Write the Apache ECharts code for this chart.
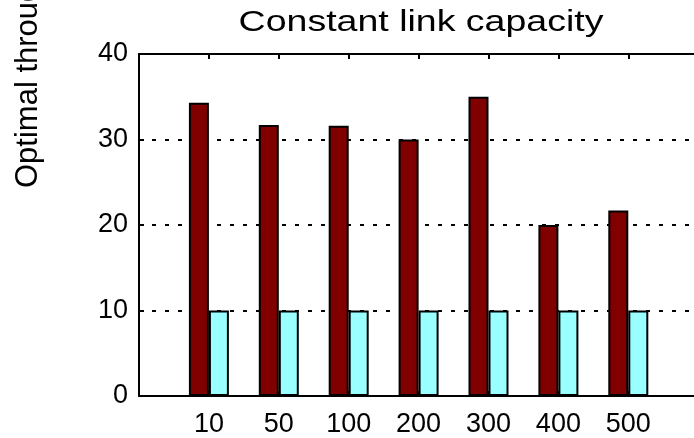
<!DOCTYPE html>
<html>
<head>
<meta charset="utf-8">
<script src="https://cdn.jsdelivr.net/npm/echarts@6/dist/echarts.min.js"></script>
<style>
  html, body { margin: 0; padding: 0; background: #fff; overflow: hidden; }
  #chart { width: 694px; height: 438px; }
</style>
</head>
<body>
<div id="chart"></div>
<script>
// Link counts along the x axis
const categories = ['10', '50', '100', '200', '300', '400', '500'];
// Optimal throughput per configuration
const optimalValues = [34.3, 31.7, 31.6, 30.0, 35.0, 20.0, 21.7];
// Constant link capacity reference
const capacityValues = [10, 10, 10, 10, 10, 10, 10];
// Y-axis ticks
const yTicks = [0, 10, 20, 30, 40];

const titleText = 'Constant link capacity';
const yAxisLabel = 'Optimal throughput';

const FONT = '"Liberation Sans", Arial, Helvetica, sans-serif';

// Bars sit at positions 1..n on a value axis; the visible window stops
// a little short of n+1, where the plot box is cut off on the right.
const positions = categories.map((c, i) => i + 1);
const toPoints = vals => vals.map((v, i) => [positions[i], v]);
const xMax = 7.94;

const chart = echarts.init(document.getElementById('chart'), null, { renderer: 'canvas' });

const xCommon = {
  type: 'value',
  min: 0,
  max: xMax,
  splitLine: { show: false },
  axisLine: { show: true, onZero: false, lineStyle: { color: '#000', width: 2 } },
  axisTick: {
    show: true, inside: true, length: 5,
    customValues: positions,
    lineStyle: { color: '#000', width: 2 }
  }
};

chart.setOption({
  animation: false,
  backgroundColor: '#ffffff',
  grid: { left: 139, right: 0, top: 54, bottom: 41, containLabel: false },
  xAxis: [
    Object.assign({}, xCommon, {
      position: 'bottom',
      axisLabel: {
        show: true,
        margin: 15,
        fontFamily: FONT,
        fontSize: 27,
        color: '#000',
        customValues: positions,
        formatter: v => categories[Math.round(v) - 1] || ''
      }
    }),
    Object.assign({}, xCommon, {
      position: 'top',
      axisLabel: { show: false }
    })
  ],
  yAxis: {
    type: 'value',
    min: yTicks[0],
    max: yTicks[yTicks.length - 1],
    interval: 10,
    axisLine: { show: true, lineStyle: { color: '#000', width: 2 } },
    axisTick: { show: true, inside: true, length: 5, lineStyle: { color: '#000', width: 2 } },
    axisLabel: {
      margin: 11,
      fontFamily: FONT,
      fontSize: 27,
      color: '#000'
    },
    splitLine: {
      show: true,
      lineStyle: { color: '#000', width: 2, type: [4, 9] }
    }
  },
  series: [
    {
      type: 'bar',
      xAxisIndex: 0,
      data: toPoints(optimalValues),
      barWidth: 20,
      barGap: '0%',
      itemStyle: { color: '#800000', borderColor: '#000', borderWidth: 2 }
    },
    {
      type: 'bar',
      xAxisIndex: 0,
      data: toPoints(capacityValues),
      barWidth: 20,
      barGap: '0%',
      itemStyle: { color: '#99ffff', borderColor: '#000', borderWidth: 2 }
    }
  ],
  graphic: [
    {
      type: 'text',
      x: 421,
      y: 23,
      scaleX: 1.25,
      style: {
        text: titleText,
        fill: '#000',
        font: '30px ' + FONT,
        textAlign: 'center',
        textVerticalAlign: 'middle'
      }
    },
    {
      type: 'text',
      x: 28,
      y: 188,
      rotation: Math.PI / 2,
      style: {
        text: yAxisLabel,
        fill: '#000',
        font: '31px ' + FONT,
        textAlign: 'left',
        textVerticalAlign: 'middle'
      }
    }
  ]
});
</script>
</body>
</html>
